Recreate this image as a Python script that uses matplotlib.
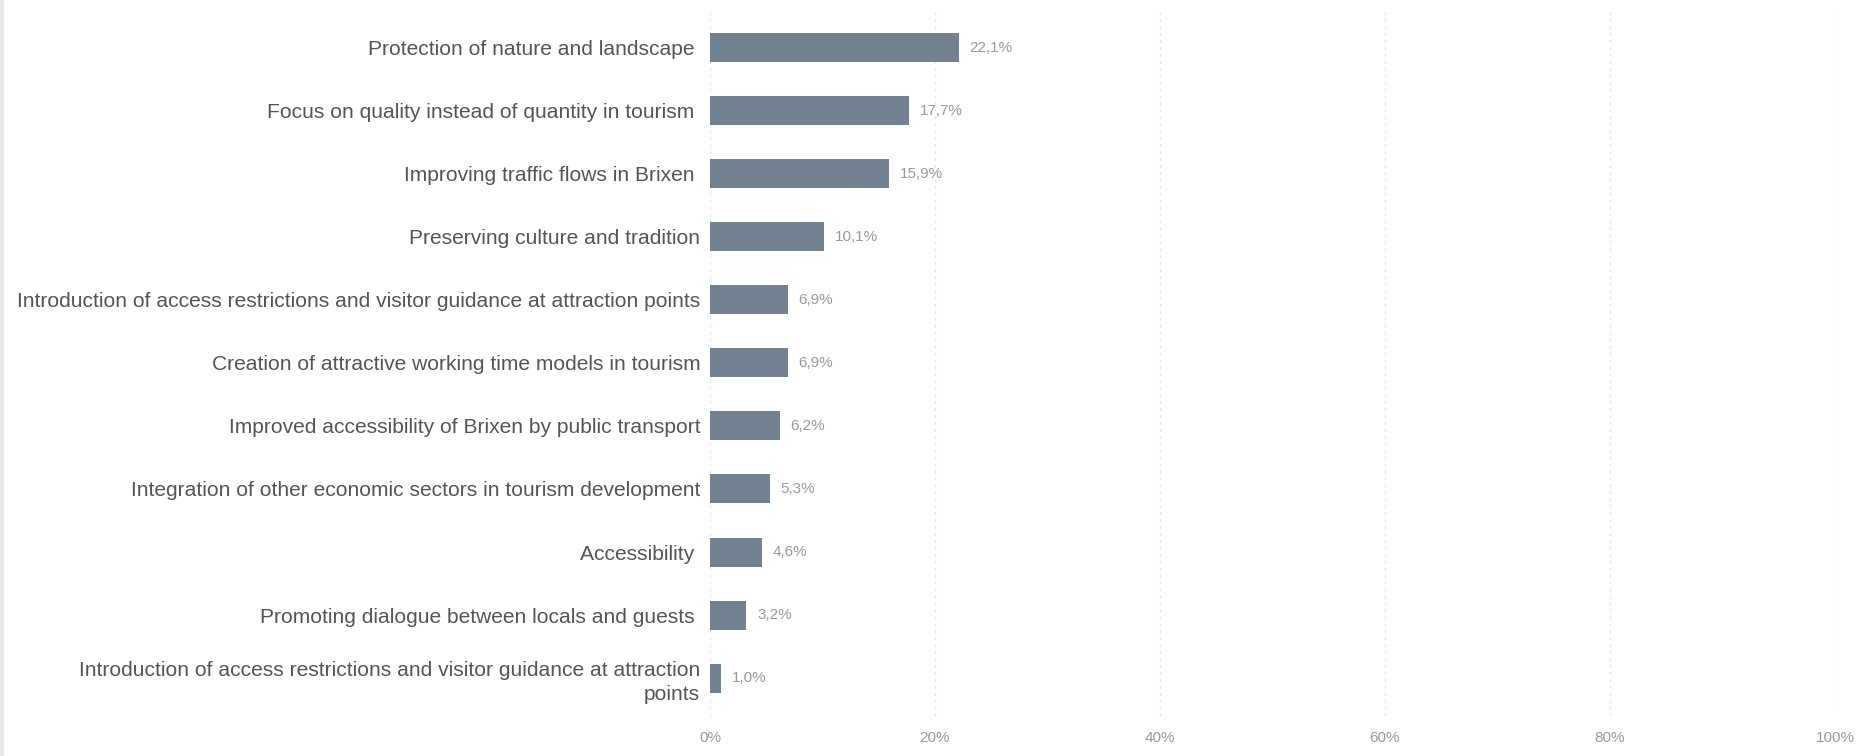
import matplotlib
matplotlib.use("Agg")
import matplotlib.pyplot as plt
from matplotlib.lines import Line2D

categories = [
    "Protection of nature and landscape ",
    "Focus on quality instead of quantity in tourism ",
    "Improving traffic flows in Brixen ",
    "Preserving culture and tradition",
    "Introduction of access restrictions and visitor guidance at attraction points",
    "Creation of attractive working time models in tourism",
    "Improved accessibility of Brixen by public transport",
    "Integration of other economic sectors in tourism development",
    "Accessibility ",
    "Promoting dialogue between locals and guests ",
    "Introduction of access restrictions and visitor guidance at attraction\npoints",
]
values = [22.1, 17.7, 15.9, 10.1, 6.9, 6.9, 6.2, 5.3, 4.6, 3.2, 1.0]
xticks = [0, 20, 40, 60, 80, 100]
xtick_labels = ["0%", "20%", "40%", "60%", "80%", "100%"]

plt.rcParams['font.family'] = ['Liberation Sans', 'DejaVu Sans']

fig = plt.figure(figsize=(18.61, 7.56), dpi=100)
ax = fig.add_axes([0.3815, 0.053, 0.6045, 0.934])

ypos = list(range(len(values)))
ax.barh(ypos, values, height=0.46, color='#738291', zorder=3)
ax.set_ylim(len(values) - 0.4, -0.6)
ax.set_xlim(0, 100)

for y, v in zip(ypos, values):
    ax.annotate(f"{v:.1f}%".replace('.', ','), xy=(v, y), xytext=(11, 0),
                textcoords='offset pixels',
                va='center', ha='left', fontsize=11, color='#9a9a9a', zorder=4)

ax.set_yticks(ypos)
ax.set_yticklabels(categories, fontsize=15.1, color='#555555', ha='right',
                   linespacing=1.3)
ax.set_xticks(xticks)
ax.set_xticklabels(xtick_labels, fontsize=11, color='#9a9a9a')
ax.tick_params(axis='y', length=0, pad=7)
ax.tick_params(axis='x', length=0, pad=11)
for s in ax.spines.values():
    s.set_visible(False)
ax.grid(axis='x', linestyle=(0, (2, 3)), color='#e6e6e6', linewidth=1.0, zorder=0)
ax.grid(axis='y', visible=False)

# faint left border
fig.add_artist(Line2D([0.001, 0.001], [0, 1], transform=fig.transFigure,
                      color='#e8e8e8', linewidth=3))

fig.savefig("out.png", dpi=100, facecolor='white')
